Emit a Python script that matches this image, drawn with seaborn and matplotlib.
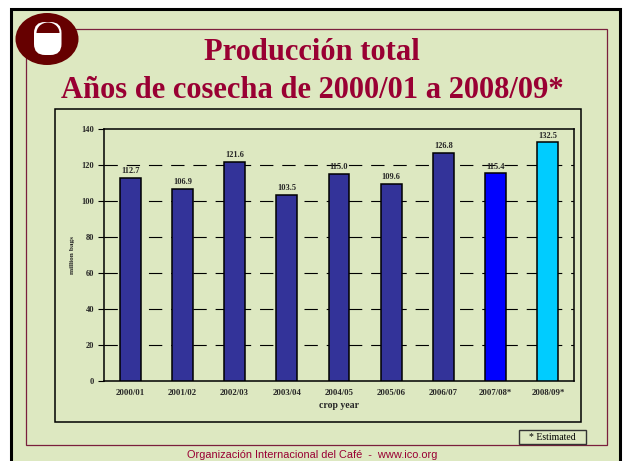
import matplotlib
matplotlib.use("Agg")
import matplotlib.pyplot as plt
import matplotlib.patches as mpatches
import seaborn as sns
import pandas as pd

# data
crop_years = ["2000/01", "2001/02", "2002/03", "2003/04", "2004/05",
              "2005/06", "2006/07", "2007/08*", "2008/09*"]
production = [112.7, 106.9, 121.6, 103.5, 115.0, 109.6, 126.8, 115.4, 132.5]
bar_colors = ["#333399"] * 7 + ["#0000ff", "#00ccff"]
y_ticks = [0, 20, 40, 60, 80, 100, 120, 140]

title_1 = "Producción total"
title_2 = "Años de cosecha de 2000/01 a 2008/09*"
footer = "Organización Internacional del Café  -  www.ico.org"

green = "#dde8c1"
maroon = "#7a1f3d"
red_title = "#990033"

sns.set_theme(style="white")
plt.rcParams["font.family"] = ["Liberation Serif", "DejaVu Serif"]

df = pd.DataFrame({"crop_year": crop_years, "production": production})

fig = plt.figure(figsize=(6.24, 4.61), dpi=100)
fig.patch.set_facecolor("white")

# slide background, drawn in pixel coordinates
bg = fig.add_axes([0, 0, 1, 1], zorder=-1)
bg.set_xlim(0, 624)
bg.set_ylim(461, 0)
bg.axis("off")
bg.add_patch(mpatches.Rectangle((11, 9.5), 609, 460, facecolor=green,
                                edgecolor="black", linewidth=2.2))
bg.add_patch(mpatches.Rectangle((25.5, 29), 581, 416, facecolor="none",
                                edgecolor=maroon, linewidth=0.9))
bg.add_patch(mpatches.Rectangle((55, 109), 526, 313, facecolor=green,
                                edgecolor="black", linewidth=1.1))

# ICO logo
bg.add_patch(mpatches.Ellipse((47, 39), 63, 52, facecolor="#660000", edgecolor="none"))
bg.add_patch(mpatches.FancyBboxPatch((34, 22), 27.5, 33, boxstyle="round,pad=0,rounding_size=11",
                                     facecolor="white", edgecolor="none"))
top_half = mpatches.Ellipse((48, 33.0), 23, 21.0, facecolor="#660000", edgecolor="none")
bg.add_patch(top_half)
clip = mpatches.Rectangle((30, 15), 40, 17.6, transform=bg.transData)
top_half.set_clip_path(clip)

# estimated box
bg.add_patch(mpatches.Rectangle((518.5, 429.5), 67, 14.5, facecolor=green,
                                edgecolor="#333333", linewidth=1.0))
bg.text(552, 437, "* Estimated", fontsize=7, ha="center", va="center", color="black")

fig.text(0.5, 1 - 52 / 461, title_1, ha="center", va="center", fontsize=22,
         fontweight="bold", color=red_title)
fig.text(0.5, 1 - 90 / 461, title_2, ha="center", va="center", fontsize=22,
         fontweight="bold", color=red_title)
fig.text(0.5, 1 - 455 / 461, footer, ha="center", va="center", fontsize=7.9,
         color=red_title, family=["Liberation Sans", "DejaVu Sans"])

# chart
ax = fig.add_axes([104 / 624, 80 / 461, 470 / 624, 252 / 461])
ax.set_facecolor("none")
sns.barplot(data=df, x="crop_year", y="production", hue="crop_year",
            palette=bar_colors, legend=False, width=0.4, edgecolor="black",
            linewidth=1.1, saturation=1, ax=ax, zorder=3)

for c in ax.containers:
    ax.bar_label(c, fmt="%.1f", padding=2, fontsize=6, fontweight="bold")

ax.set_ylim(0, 140)
ax.set_yticks(y_ticks)
ax.set_axisbelow(True)
ax.yaxis.grid(True, color="black", linewidth=0.8, linestyle=(0, (12, 8)))
ax.xaxis.grid(False)
# top gridline sits on the frame, hide it
ax.get_ygridlines()[-1].set_visible(False)
ax.get_ygridlines()[0].set_visible(False)
for s in ax.spines.values():
    s.set_color("black")
    s.set_linewidth(1.1)
    s.set_visible(True)

ax.tick_params(axis="y", length=4, width=0.8, color="black", pad=3, labelsize=6, left=True)
ax.tick_params(axis="x", length=0, pad=6, labelsize=6.3)
for lbl in ax.get_xticklabels() + ax.get_yticklabels():
    lbl.set_fontweight("bold")

ax.set_xlabel("crop year", fontsize=7, fontweight="bold")
ax.xaxis.set_label_coords(0.5, -0.099)
ax.xaxis.label.set_va("center")
ax.set_ylabel("million bags", fontsize=5.3, fontweight="bold")
ax.yaxis.set_label_coords(-0.068, 0.5)
ax.yaxis.label.set_va("center")

fig.savefig("out.png", dpi=100)
